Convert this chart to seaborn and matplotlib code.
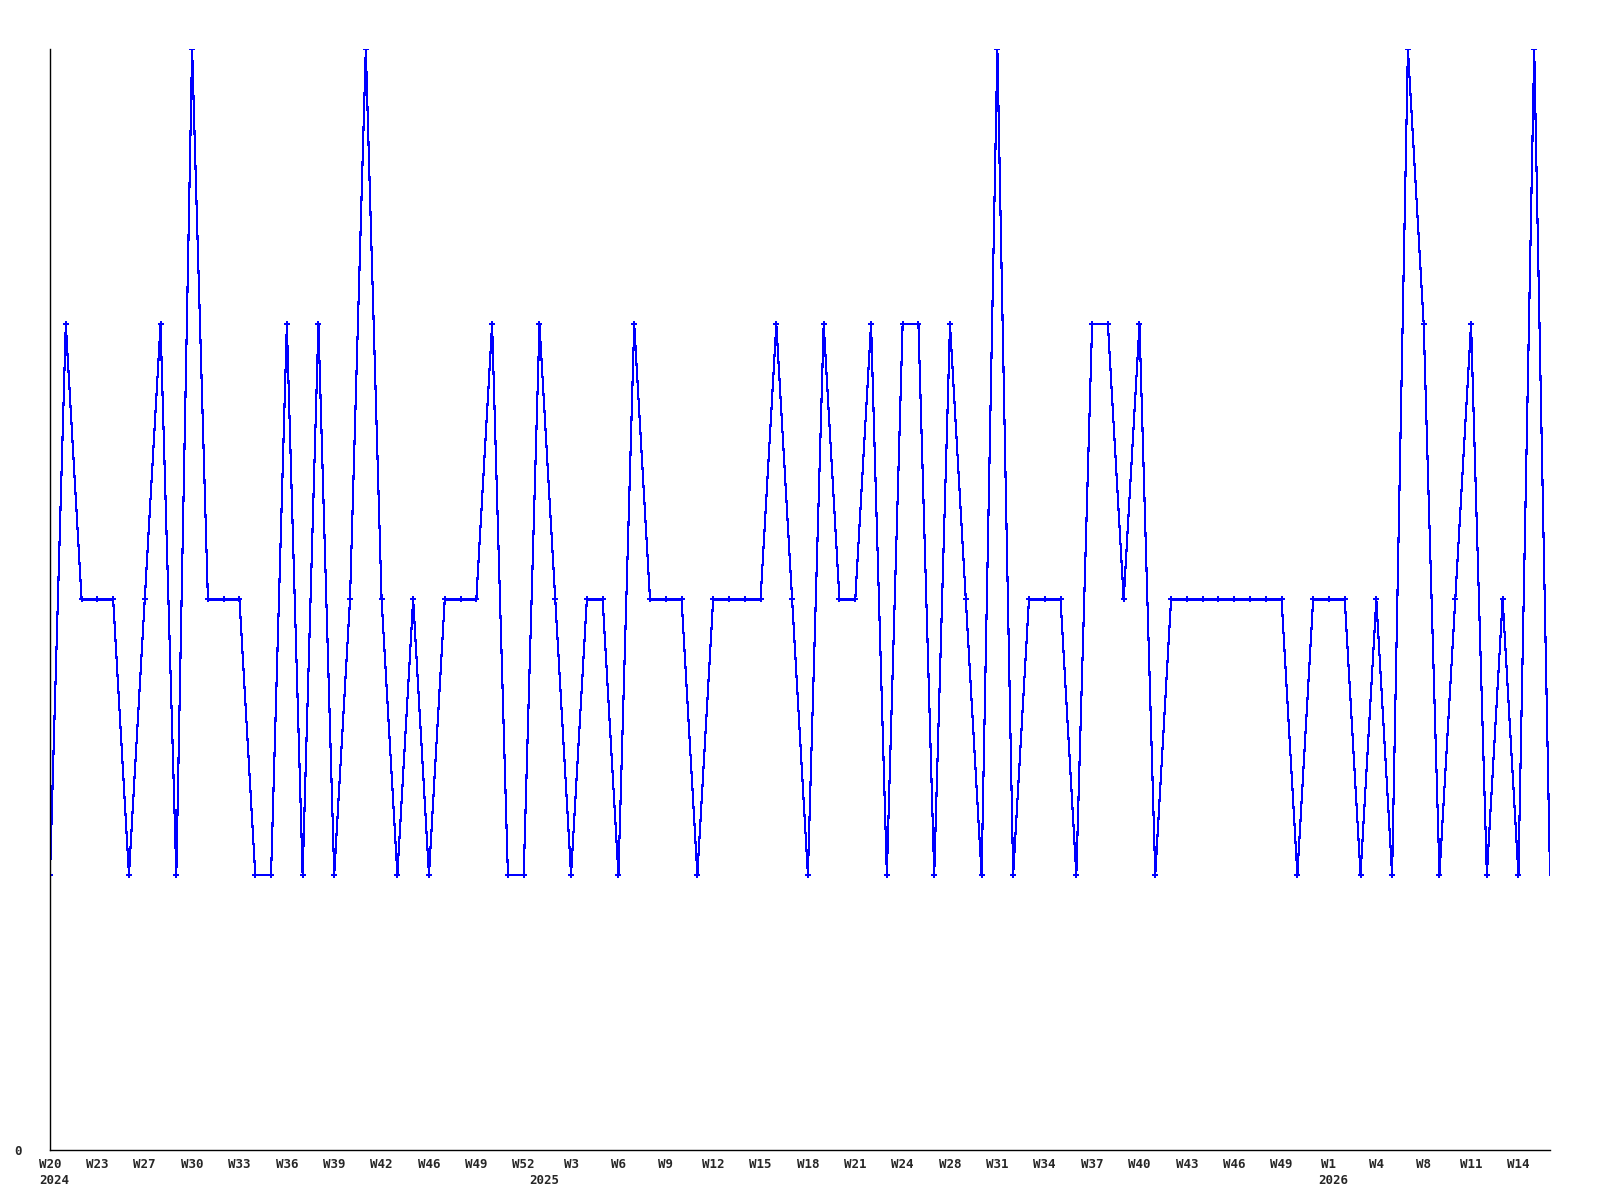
import numpy as np
import pandas as pd
import matplotlib
matplotlib.use('Agg')
import matplotlib.pyplot as plt
import matplotlib.transforms as mtransforms
import seaborn as sns

# weekly values, one per point (W20 2024 .. W16 2026)
values = [
    1, 3, 2, 2, 2, 1, 2, 3, 1, 4,
    2, 2, 2, 1, 1, 3, 1, 3, 1, 2,
    4, 2, 1, 2, 1, 2, 2, 2, 3, 1,
    1, 3, 2, 1, 2, 2, 1, 3, 2, 2,
    2, 1, 2, 2, 2, 2, 3, 2, 1, 3,
    2, 2, 3, 1, 3, 3, 1, 3, 2, 1,
    4, 1, 2, 2, 2, 1, 3, 3, 2, 3,
    1, 2, 2, 2, 2, 2, 2, 2, 2, 1,
    2, 2, 2, 1, 2, 1, 4, 3, 1, 2,
    3, 1, 2, 1, 4, 1,
]

# tick labels, one every third point
tick_labels = [
    'W20', 'W23', 'W27', 'W30', 'W33', 'W36', 'W39', 'W42', 'W46', 'W49',
    'W52', 'W3', 'W6', 'W9', 'W12', 'W15', 'W18', 'W21', 'W24', 'W28',
    'W31', 'W34', 'W37', 'W40', 'W43', 'W46', 'W49', 'W1', 'W4', 'W8',
    'W11', 'W14',
]
years = ['2024', '2025', '2026']
year_points = [0, 31, 81]

df = pd.DataFrame({'idx': np.arange(len(values)), 'value': values})

sns.set_style('white')
plt.rcParams['font.family'] = ['DejaVu Sans Mono']

fig = plt.figure(figsize=(16, 12), dpi=100)
ax = fig.add_axes([0.03125, 0.0417, 0.9375, 0.9175])

sns.lineplot(data=df, x='idx', y='value', ax=ax, color='#0000ff', linewidth=0.8,
             marker='P', markersize=5, markeredgewidth=0,
             markevery=list(range(len(values) - 1)), antialiased=False)

ax.set_xlim(0, len(values) - 1)
ax.set_ylim(0, 4)
ax.set_xlabel('')
ax.set_ylabel('')

ax.set_xticks(np.arange(0, len(values), 3)[:len(tick_labels)])
ax.set_xticklabels(tick_labels, fontsize=9, fontweight='bold')
ax.set_yticks([0])
ax.set_yticklabels(['0'], fontsize=9, fontweight='bold')
ax.tick_params(axis='x', length=0, pad=6)
ax.tick_params(axis='y', length=0, pad=20)

trans = mtransforms.blended_transform_factory(ax.transData, ax.transAxes)
for yr, p in zip(years, year_points):
    ax.text(p - 0.65, -0.022, yr, transform=trans, ha='left', va='top',
            fontsize=9, fontweight='bold')

for side in ['top', 'right']:
    ax.spines[side].set_visible(False)
for side in ['left', 'bottom']:
    ax.spines[side].set_color('black')
    ax.spines[side].set_linewidth(1.0)

fig.savefig('out.png', dpi=100, facecolor='white')
